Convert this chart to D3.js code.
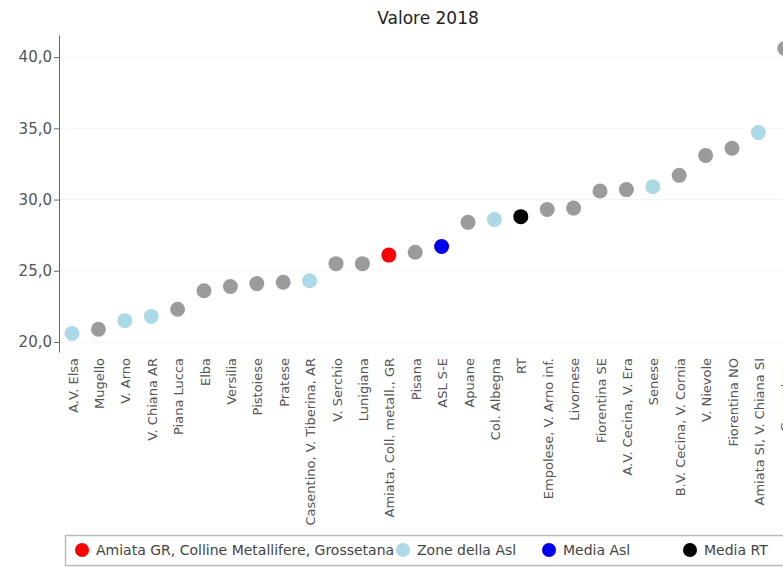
<!DOCTYPE html>
<html>
<head>
<meta charset="utf-8">
<script src="https://cdn.jsdelivr.net/npm/d3@7"></script>
<style>
  body { margin: 0; background: #fff; }
  svg { display: block; font-family: "DejaVu Sans", sans-serif; }
</style>
</head>
<body>
<div id="chart"></div>
<script>
const w = 783;
const h = 567;

const labels = ["A.V. Elsa", "Mugello", "V. Arno", "V. Chiana AR", "Piana Lucca", "Elba", "Versilia",
    "Pistoiese", "Pratese", "Casentino, V. Tiberina, AR", "V. Serchio", "Lunigiana",
    "Amiata, Coll. metall., GR", "Pisana", "ASL S-E", "Apuane", "Col. Albegna", "RT",
    "Empolese, V. Arno inf.", "Livornese", "Fiorentina SE", "A.V. Cecina, V. Era", "Senese",
    "B.V. Cecina, V. Cornia", "V. Nievole", "Fiorentina NO", "Amiata SI, V. Chiana SI", "Grossetana"];
const values = [20.6, 20.9, 21.5, 21.8, 22.3, 23.6, 23.9, 24.1, 24.2, 24.3, 25.5, 25.5,
    26.1, 26.3, 26.7, 28.4, 28.6, 28.8, 29.3, 29.4, 30.6, 30.7, 30.9, 31.7, 33.1, 33.6, 34.7, 40.6];
// g = altre zone, z = zone della asl, a = Amiata GR, m = media asl, r = media RT
const groups = ["z", "g", "z", "z", "g", "g", "g", "g", "g", "z", "g", "g",
    "a", "g", "m", "g", "z", "r", "g", "g", "g", "g", "z", "g", "g", "g", "z", "g"];
const yTicks = [20, 25, 30, 35, 40];
const legendKeys = ["a", "z", "m", "r"];
const legendLabels = ["Amiata GR, Colline Metallifere, Grossetana", "Zone della Asl", "Media Asl", "Media RT"];

const colors = { g: "#9b9b9b", z: "#add8e6", a: "#ff0000", m: "#0000ee", r: "#000000" };

const svg = d3.select("#chart").append("svg")
    .attr("width", w)
    .attr("height", h);

const axisX = 59;
const x = d3.scalePoint().domain(labels).range([72, 784.8]);
const y = d3.scaleLinear().domain([19.3, 41.55]).range([352, 35]);

// title
svg.append("text")
    .attr("x", 428)
    .attr("y", 24)
    .attr("text-anchor", "middle")
    .attr("font-size", 17)
    .attr("fill", "#222")
    .text("Valore 2018");

// faint grid
svg.append("g")
    .selectAll("line")
    .data(yTicks)
    .join("line")
    .attr("x1", axisX + 1)
    .attr("x2", w)
    .attr("y1", d => y(d))
    .attr("y2", d => y(d))
    .attr("stroke", "#f4f4f4");

// y axis
const yAxis = svg.append("g")
    .attr("transform", "translate(" + axisX + ",0)")
    .call(d3.axisLeft(y)
        .tickValues(yTicks)
        .tickSize(5)
        .tickSizeOuter(0)
        .tickFormat(d => d3.format(".1f")(d).replace(".", ",")));
yAxis.select(".domain").attr("stroke", "#666");
yAxis.selectAll(".tick line").attr("stroke", "#666");
yAxis.selectAll(".tick text")
    .attr("font-family", "DejaVu Sans, sans-serif")
    .attr("font-size", 15)
    .attr("fill", "#555")
    .attr("x", -7);

// category labels
svg.append("g")
    .selectAll("text")
    .data(labels)
    .join("text")
    .attr("transform", d => "translate(" + (x(d) + 1) + ",358) rotate(-90)")
    .attr("text-anchor", "end")
    .attr("dy", "0.35em")
    .attr("font-size", 13)
    .attr("fill", "#555")
    .text(d => d);

// points
svg.append("g")
    .selectAll("circle")
    .data(values)
    .join("circle")
    .attr("cx", (d, i) => x(labels[i]))
    .attr("cy", d => y(d))
    .attr("r", 7.5)
    .attr("fill", (d, i) => colors[groups[i]]);

// legend
const legend = svg.append("g");
legend.append("rect")
    .attr("x", 65.5)
    .attr("y", 535.5)
    .attr("width", 760)
    .attr("height", 30)
    .attr("fill", "#fff")
    .attr("stroke", "#bbb")
    .attr("stroke-width", 1.5);

const legendX = [82, 403, 549, 690];
const item = legend.selectAll("g.item")
    .data(legendKeys)
    .join("g")
    .attr("class", "item")
    .attr("transform", (d, i) => "translate(" + legendX[i] + ",550)");
item.append("circle")
    .attr("r", 7)
    .attr("fill", d => colors[d]);
item.append("text")
    .attr("x", 14)
    .attr("dy", "0.36em")
    .attr("font-size", 14)
    .attr("fill", "#444")
    .text((d, i) => legendLabels[i]);
</script>
</body>
</html>
